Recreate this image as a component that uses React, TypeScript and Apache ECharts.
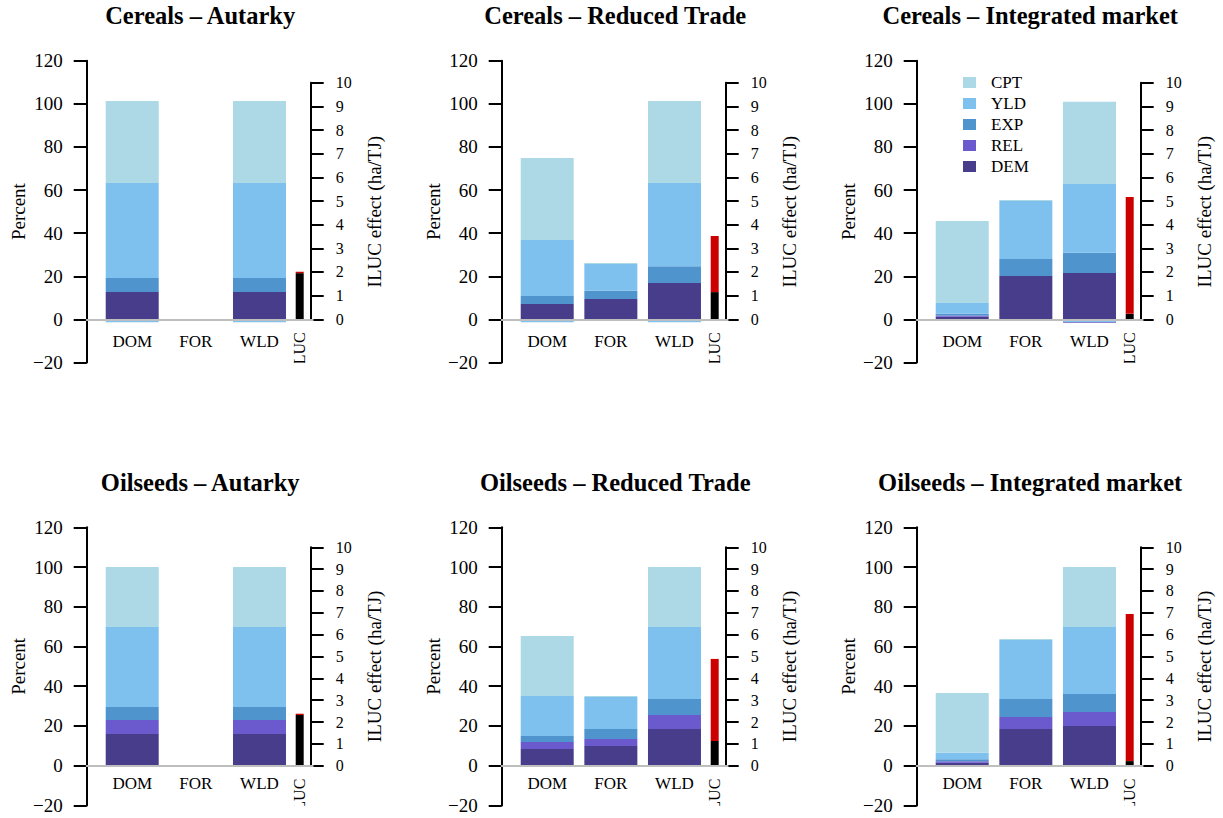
import React, { useEffect, useRef } from "react";
import * as echarts from "echarts";

// ---------- data ----------
const CATEGORIES = ["DOM", "FOR", "WLD"];
const ILUC_CATEGORY = ["ILUC"];
const PANEL_TITLES = [
  "Cereals – Autarky",
  "Cereals – Reduced Trade",
  "Cereals – Integrated market",
  "Oilseeds – Autarky",
  "Oilseeds – Reduced Trade",
  "Oilseeds – Integrated market",
];
const LEGEND_ORDER = ["CPT", "YLD", "EXP", "REL", "DEM"];
const PERCENT_RANGE = [-20, 120, 20]; // min, max, step
const ILUC_RANGE = [0, 10, 1];

// per panel, values for [DOM, FOR, WLD] (percent)
const DEM = [
  [12.7, 0, 12.7],
  [7.1, 9.4, 16.9],
  [1.2, 20.1, 21.5],
  [15.9, 0, 15.9],
  [8.4, 9.9, 18.5],
  [1.5, 18.5, 20.0],
];
const REL = [
  [0, 0, 0],
  [0, 0, 0],
  [0.6, 0, 0],
  [7.1, 0, 7.1],
  [3.5, 3.5, 7.0],
  [0.7, 6.0, 7.0],
];
const EXP = [
  [6.5, 0, 6.5],
  [3.7, 3.9, 7.8],
  [0.8, 7.9, 9.4],
  [6.5, 0, 6.5],
  [3.0, 5.1, 8.1],
  [1.0, 9.1, 9.1],
];
const YLD = [
  [44.1, 0, 44.1],
  [26.0, 12.4, 38.6],
  [5.0, 26.9, 31.9],
  [40.3, 0, 40.3],
  [20.2, 16.1, 36.2],
  [3.3, 29.7, 33.7],
];
const CPT = [
  [38.0, 0, 38.0],
  [38.1, 0.4, 38.0],
  [38.0, 0.5, 38.1],
  [30.2, 0, 30.2],
  [30.2, 0.5, 30.2],
  [30.1, 0.5, 30.2],
];
const YLD_NEG = [
  [-1.3, 0, -1.3],
  [-1.3, 0, -1.3],
  [0, -0.8, -1.2],
  [0, 0, 0],
  [0, 0, 0],
  [0, 0, 0],
];
const REL_NEG = [
  [0, 0, 0],
  [0, 0, 0],
  [0, 0, -0.4],
  [0, 0, 0],
  [0, 0, 0],
  [0, 0, 0],
];
// ILUC effect (ha/TJ), per panel
const ILUC_LOW = [1.95, 1.15, 0.23, 2.32, 1.13, 0.21];
const ILUC_HIGH = [0.06, 2.37, 4.94, 0.06, 3.76, 6.74];

// ---------- style / layout ----------
const COLORS: Record<string, string> = {
  CPT: "#ADD8E6",
  YLD: "#7EC0EE",
  EXP: "#4F94CD",
  REL: "#6A5ACD",
  DEM: "#483D8B",
};
const ILUC_COLORS = ["#000000", "#CD0000"];
const FONT = '"Liberation Serif", "Times New Roman", serif';
const COL_X = [86.7, 501.7, 916.7];
const ROWS = [
  { top: 60.7, bottom: 362.5, ilucTop: 82.7, zero: 319.3 },
  { top: 527.3, bottom: 805.4, ilucTop: 547.3, zero: 765.7 },
];

function buildOption() {
  const grid: any[] = [];
  const xAxis: any[] = [];
  const yAxis: any[] = [];
  const series: any[] = [];
  const graphic: any[] = [];

  const comps: [string, number[][]][] = [
    ["DEM", DEM],
    ["REL", REL],
    ["EXP", EXP],
    ["YLD", YLD],
    ["CPT", CPT],
    ["YLD", YLD_NEG],
    ["REL", REL_NEG],
  ];

  for (let p = 0; p < 6; p++) {
    const A = COL_X[p % 3];
    const R = ROWS[Math.floor(p / 3)];
    const H = R.bottom - R.top;
    const perUnit = (R.zero - R.ilucTop) / (ILUC_RANGE[1] - ILUC_RANGE[0]);

    grid.push({ left: A + 13.7, top: R.top, width: 190.9, height: H, outerBoundsMode: "none" });
    grid.push({ left: A + 202, top: R.ilucTop, width: 22, height: R.zero - R.ilucTop, outerBoundsMode: "none" });
    grid.push({ left: A, top: R.top, width: 226, height: H, outerBoundsMode: "none" });

    xAxis.push({
      type: "category",
      gridIndex: 3 * p,
      data: CATEGORIES,
      axisLine: { show: false, onZero: false },
      axisTick: { show: false },
      axisLabel: { fontSize: 17, fontFamily: FONT, color: "#000", margin: -30 },
    });
    xAxis.push({
      type: "category",
      gridIndex: 3 * p + 1,
      data: ILUC_CATEGORY,
      axisLine: { show: false, onZero: false },
      axisTick: { show: false },
      axisLabel: { fontSize: 16, fontFamily: FONT, color: "#000", margin: 13, rotate: 90 },
    });
    xAxis.push({
      type: "value",
      gridIndex: 3 * p + 2,
      min: 0,
      max: 1,
      z: 5,
      axisLine: { show: true, onZero: true, lineStyle: { color: "#bebebe", width: 2 } },
      axisTick: { show: false },
      axisLabel: { show: false },
      splitLine: { show: false },
    });

    yAxis.push({
      type: "value",
      gridIndex: 3 * p,
      position: "left",
      min: PERCENT_RANGE[0],
      max: PERCENT_RANGE[1],
      interval: PERCENT_RANGE[2],
      offset: 13.7,
      axisLine: { show: true, lineStyle: { color: "#000", width: 2 } },
      axisTick: { show: true, length: 13, lineStyle: { color: "#000", width: 2 } },
      axisLabel: {
        fontSize: 19,
        fontFamily: FONT,
        color: "#000",
        margin: 24,
        formatter: (v: number) => (v < 0 ? "\u2212" + -v : String(v)),
      },
      splitLine: { show: false },
      name: "Percent",
      nameLocation: "middle",
      nameGap: 59,
      nameTextStyle: { fontSize: 19, fontFamily: FONT, color: "#000" },
    });
    yAxis.push({
      type: "value",
      gridIndex: 3 * p + 1,
      position: "right",
      min: ILUC_RANGE[0],
      max: ILUC_RANGE[1],
      interval: ILUC_RANGE[2],
      axisLine: { show: true, lineStyle: { color: "#000", width: 2 } },
      axisTick: { show: true, length: 13, lineStyle: { color: "#000", width: 2 } },
      axisLabel: { fontSize: 16, fontFamily: FONT, color: "#000", margin: 25 },
      splitLine: { show: false },
    });
    yAxis.push({
      type: "value",
      gridIndex: 3 * p + 2,
      position: "left",
      min: PERCENT_RANGE[0],
      max: PERCENT_RANGE[1],
      show: false,
    });
    yAxis.push({
      type: "value",
      gridIndex: 3 * p + 2,
      position: "right",
      min: -(R.bottom - R.zero) / perUnit,
      max: (R.zero - R.top) / perUnit,
      axisLine: { show: false },
      axisTick: { show: false },
      axisLabel: { show: false },
      splitLine: { show: false },
      name: "ILUC effect (ha/TJ)",
      nameLocation: "middle",
      nameGap: 52,
      nameTextStyle: { fontSize: 19, fontFamily: FONT, color: "#000" },
    });

    comps.forEach(([name, arr]) => {
      series.push({
        type: "bar",
        name,
        xAxisIndex: 3 * p,
        yAxisIndex: 4 * p,
        stack: "s" + p,
        barWidth: 53,
        data: arr[p],
        itemStyle: { color: COLORS[name] },
      });
    });
    [ILUC_LOW, ILUC_HIGH].forEach((arr, k) => {
      series.push({
        type: "bar",
        name: k === 0 ? "ILUC low" : "ILUC high",
        xAxisIndex: 3 * p + 1,
        yAxisIndex: 4 * p + 1,
        stack: "i" + p,
        barWidth: 8,
        data: [arr[p]],
        itemStyle: { color: ILUC_COLORS[k] },
      });
    });

    graphic.push({
      type: "text",
      x: A + 113.5,
      y: R.top - 45,
      style: {
        text: PANEL_TITLES[p],
        fontSize: 24.5,
        fontWeight: "bold",
        fontFamily: FONT,
        fill: "#000",
        textAlign: "center",
        textVerticalAlign: "middle",
      },
    });
    // the ILUC label is cut off at the bottom of the panel region, as in the original figure
    graphic.push({
      type: "rect",
      z: 100,
      shape: { x: A + 203, y: R.bottom + 0.5, width: 20, height: 14 },
      style: { fill: "#ffffff" },
    });
  }

  return {
    animation: false,
    backgroundColor: "#ffffff",
    grid,
    xAxis,
    yAxis,
    series,
    graphic,
    legend: {
      data: LEGEND_ORDER,
      orient: "vertical",
      left: 963,
      top: 74,
      itemWidth: 13,
      itemHeight: 11,
      itemGap: 4,
      icon: "rect",
      padding: 0,
      selectedMode: false,
      textStyle: { fontSize: 17, fontFamily: FONT, color: "#000", padding: [0, 0, 0, 10] },
    },
  };
}

export default function App() {
  const ref = useRef<HTMLDivElement>(null);
  useEffect(() => {
    if (!ref.current) return;
    const chart = echarts.init(ref.current, undefined, { renderer: "svg" });
    chart.setOption(buildOption() as any);
    return () => chart.dispose();
  }, []);
  return (
    <div
      ref={ref}
      style={{ position: "fixed", left: 0, top: 0, width: 1223, height: 818, background: "#fff" }}
    />
  );
}
